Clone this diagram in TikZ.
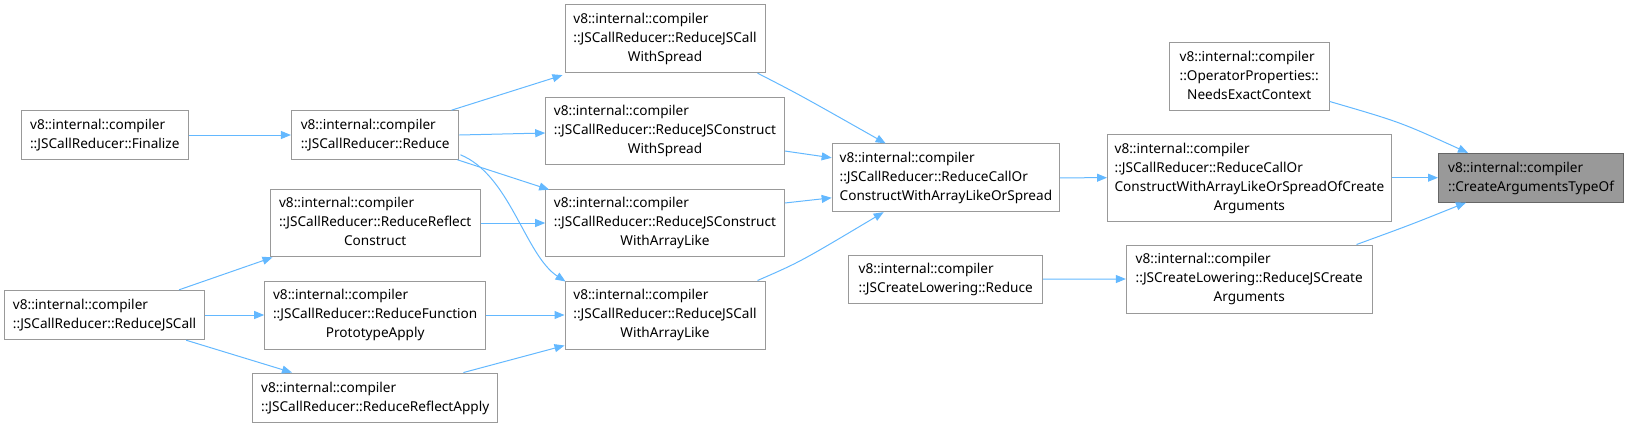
\documentclass[tikz,border=0pt]{standalone}
\usepackage{fontspec}
\setmainfont{Noto Sans}
\usetikzlibrary{arrows.meta,calc}
\definecolor{edgeblue}{HTML}{63B8FF}
\definecolor{boxgray}{HTML}{999999}
\definecolor{rootborder}{HTML}{666666}
\definecolor{rootfill}{HTML}{999999}
\newcommand{\lastc}[1]{\multicolumn{1}{@{}c@{}}{#1}}
\newcommand{\lbl}[1]{\begin{tabular}{@{}l@{}}#1\end{tabular}}
\tikzset{
  box/.style={draw=boxgray, line width=1pt, fill=white, inner sep=0pt, align=center,
    font=\fontsize{13.6}{19}\selectfont, text=black},
  rootbox/.style={box, draw=rootborder, fill=rootfill},
  edge/.style={draw=edgeblue, line width=1pt, -{Triangle[length=10pt,width=8pt]}},
}
\begin{document}
\begin{tikzpicture}[x=1pt,y=1pt]
\useasboundingbox (0,0) rectangle (1629,-428);
% nodes
\node[box, minimum width=167, minimum height=48.6] (FIN) at (104.8,-135) {\lbl{v8::internal::compiler\\::JSCallReducer::Finalize}};
\node[box, minimum width=167.5, minimum height=48.6] (RED) at (375.2,-135) {\lbl{v8::internal::compiler\\::JSCallReducer::Reduce}};
\node[box, minimum width=210.4, minimum height=67.7] (RRC) at (375.2,-223) {\lbl{v8::internal::compiler\\::JSCallReducer::ReduceReflect\\\lastc{Construct}}};
\node[box, minimum width=200, minimum height=49.4] (RJC) at (104.6,-315) {\lbl{v8::internal::compiler\\::JSCallReducer::ReduceJSCall}};
\node[box, minimum width=221, minimum height=68] (FPA) at (375.2,-315) {\lbl{v8::internal::compiler\\::JSCallReducer::ReduceFunction\\\lastc{PrototypeApply}}};
\node[box, minimum width=245.4, minimum height=49.3] (RRA) at (375.2,-397.7) {\lbl{v8::internal::compiler\\::JSCallReducer::ReduceReflectApply}};
\node[box, minimum width=200, minimum height=67.7] (JCWS) at (665,-38.8) {\lbl{v8::internal::compiler\\::JSCallReducer::ReduceJSCall\\\lastc{WithSpread}}};
\node[box, minimum width=238.6, minimum height=67.4] (JCOS) at (665,-131) {\lbl{v8::internal::compiler\\::JSCallReducer::ReduceJSConstruct\\\lastc{WithSpread}}};
\node[box, minimum width=238.6, minimum height=67.7] (JCOAL) at (665,-223) {\lbl{v8::internal::compiler\\::JSCallReducer::ReduceJSConstruct\\\lastc{WithArrayLike}}};
\node[box, minimum width=200, minimum height=68] (JCAL) at (665,-315) {\lbl{v8::internal::compiler\\::JSCallReducer::ReduceJSCall\\\lastc{WithArrayLike}}};
\node[box, minimum width=227.5, minimum height=67.7] (COS) at (945.9,-177.8) {\lbl{v8::internal::compiler\\::JSCallReducer::ReduceCallOr\\\lastc{ConstructWithArrayLikeOrSpread}}};
\node[box, minimum width=193.6, minimum height=48.3] (JCLR) at (945.7,-279.2) {\lbl{v8::internal::compiler\\::JSCreateLowering::Reduce}};
\node[box, minimum width=160, minimum height=67.6] (NEC) at (1249.2,-76.5) {\lbl{v8::internal::compiler\\::OperatorProperties::\\\lastc{NeedsExactContext}}};
\node[box, minimum width=283.8, minimum height=86.7] (OCA) at (1249.4,-177.7) {\lbl{v8::internal::compiler\\::JSCallReducer::ReduceCallOr\\ConstructWithArrayLikeOrSpreadOfCreate\\\lastc{Arguments}}};
\node[box, minimum width=245.7, minimum height=68] (RJCA) at (1249.2,-279) {\lbl{v8::internal::compiler\\::JSCreateLowering::ReduceJSCreate\\\lastc{Arguments}}};
\node[rootbox, minimum width=185, minimum height=48.7] (CATO) at (1531,-177.7) {\lbl{v8::internal::compiler\\::CreateArgumentsTypeOf}};
% edges
\draw[edge] (FIN.east) -- (RED.west);
\draw[edge] ($(RED.north east)+(-8,0)$) -- ($(JCWS.south west)+(-2,-2)$);
\draw[edge] (RED.east) -- ($(JCOS.west)+(0,-2)$);
\draw[edge] ($(RED.south east)+(-2,0)$) -- ($(JCOAL.north west)+(4,-1)$);
\draw[edge] ($(RED.south east)+(1,5)$) .. controls (510,-175) and (525,-255) .. ($(JCAL.north west)+(1,-1)$);
\draw[edge] ($(RJC.north east)+(-26,0)$) -- ($(RRC.south west)+(3,0)$);
\draw[edge] (RJC.east) -- (FPA.west);
\draw[edge] ($(RJC.south east)+(-19,0)$) -- ($(RRA.north west)+(40,0)$);
\draw[edge] (RRC.east) -- (JCOAL.west);
\draw[edge] (FPA.east) -- (JCAL.west);
\draw[edge] ($(RRA.north east)+(-35,0)$) -- ($(JCAL.south west)+(0,4)$);
\draw[edge] ($(JCWS.south east)+(-8,0)$) .. controls (800,-95) .. ($(COS.north west)+(54,0)$);
\draw[edge] ($(JCOS.east)+(0,-20)$) -- ($(COS.west)+(0,20)$);
\draw[edge] ($(JCOAL.east)+(0,20)$) -- ($(COS.west)+(0,-20)$);
\draw[edge] ($(JCAL.north east)+(-8,0)$) .. controls (800,-262) .. ($(COS.south west)+(52,0)$);
\draw[edge] (COS.east) -- (OCA.west);
\draw[edge] (JCLR.east) -- (RJCA.west);
\draw[edge] ($(NEC.east)+(0,-25)$) .. controls (1400,-122) .. ($(CATO.north west)+(30,0)$);
\draw[edge] (OCA.east) -- (CATO.west);
\draw[edge] ($(RJCA.north east)+(-16,0)$) .. controls (1410,-225) .. ($(CATO.south west)+(28,0)$);
\end{tikzpicture}
\end{document}
